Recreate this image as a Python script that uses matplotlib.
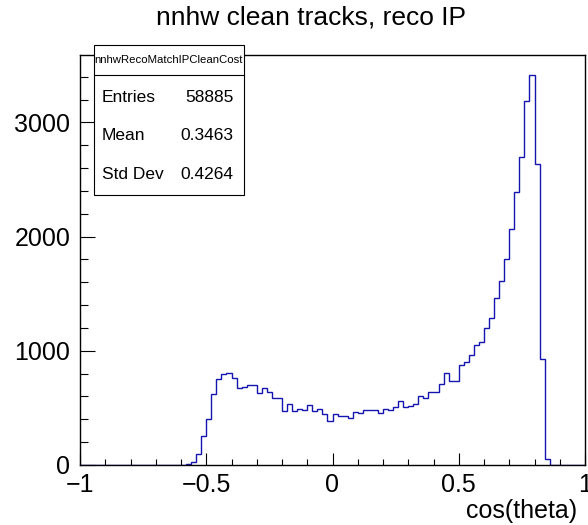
import numpy as np
import matplotlib
matplotlib.use("Agg")
import matplotlib.pyplot as plt
from matplotlib.ticker import MultipleLocator
from matplotlib.patches import Rectangle
from matplotlib.lines import Line2D

plt.rcParams['font.family'] = ['Liberation Sans', 'DejaVu Sans']

# ---- data ----
x_min, x_max, n_bins = -1.0, 1.0, 100
counts = [0]*20 + [
    3, 10, 30, 100, 252, 406, 620, 750, 795, 807,          # 20-29
    760, 673, 684, 705, 705, 628, 673, 643, 588, 588,      # 30-39
    474, 533, 474, 490, 482, 524, 472, 490, 450, 388,      # 40-49
    443, 427, 427, 408, 464, 456, 482, 482, 482, 453,      # 50-59
    491, 482, 512, 559, 512, 520, 535, 608, 588, 635,      # 60-69
    643, 708, 808, 740, 740, 877, 901, 962, 1055, 1075,    # 70-79
    1202, 1287, 1462, 1608, 1807, 2070, 2395, 2699, 3184, 3420,  # 80-89
    2640, 925, 55,                                          # 90-92
] + [0]*7
x_ticks = [-1, -0.5, 0, 0.5, 1]
x_tick_labels = ["\u22121", "\u22120.5", "0", "0.5", "1"]
y_ticks = [0, 1000, 2000, 3000]
y_tick_labels = ["0", "1000", "2000", "3000"]
title = "nnhw clean tracks, reco IP"
x_label = "cos(theta)"
stats_name = "nnhwRecoMatchIPCleanCost"
stats_rows = [("Entries", "58885"), ("Mean", "0.3463"), ("Std Dev", "0.4264")]

W, H = 588, 525
fig = plt.figure(figsize=(W/100, H/100), dpi=100)
L, R, T, B = 80, 585, 55, 465
ax = fig.add_axes([L/W, 1-B/H, (R-L)/W, (B-T)/H])

edges = np.linspace(x_min, x_max, n_bins + 1)
ax.stairs(counts, edges, color='#1414b0', linewidth=1.0, zorder=1)

ymax = max(counts) * 1.05
ax.set_xlim(x_min, x_max)
ax.set_ylim(0, ymax)

ax.set_xticks(x_ticks)
ax.set_xticklabels(x_tick_labels)
ax.set_yticks(y_ticks)
ax.set_yticklabels(y_tick_labels)
ax.xaxis.set_minor_locator(MultipleLocator(0.1))
ax.yaxis.set_minor_locator(MultipleLocator(200))
ax.tick_params(axis='x', which='major', direction='in', length=8.8, width=0.8, labelsize=18, pad=6)
ax.tick_params(axis='x', which='minor', direction='in', length=4.4, width=0.8)
ax.tick_params(axis='y', which='major', direction='in', length=10.8, width=0.8, labelsize=18, pad=7)
ax.tick_params(axis='y', which='minor', direction='in', length=5.4, width=0.8)
ax.tick_params(top=False, right=False, which='both')
for s in ax.spines.values():
    s.set_linewidth(1.0)
    s.set_color('black')
    s.set_zorder(3)

fig.text(311/W, 1-18/H, title, ha='center', va='center', fontsize=19)
fig.text(577/W, 1-511/H, x_label, ha='right', va='center', fontsize=18)

# stats box
bx0, bx1, by0, by1, bsep = 94, 244, 45, 195, 75
fig.add_artist(Rectangle((bx0/W, 1-by1/H), (bx1-bx0)/W, (by1-by0)/H,
                         transform=fig.transFigure, facecolor='white',
                         edgecolor='black', linewidth=0.8, zorder=5))
fig.add_artist(Line2D([bx0/W, bx1/W], [1-bsep/H, 1-bsep/H], transform=fig.transFigure,
                      color='black', linewidth=0.8, zorder=6))
fig.text((bx0+bx1)/2/W, 1-(by0+bsep)/2/H, stats_name, ha='center', va='center',
         fontsize=8.2, zorder=7)
row_y = [97, 136, 175]
for (k, v), yy in zip(stats_rows, row_y):
    fig.text(101.5/W, 1-yy/H, k, ha='left', va='center', fontsize=12.5, zorder=7)
    fig.text(233.5/W, 1-yy/H, v, ha='right', va='center', fontsize=12.5, zorder=7)

fig.savefig("out.png", dpi=100)
